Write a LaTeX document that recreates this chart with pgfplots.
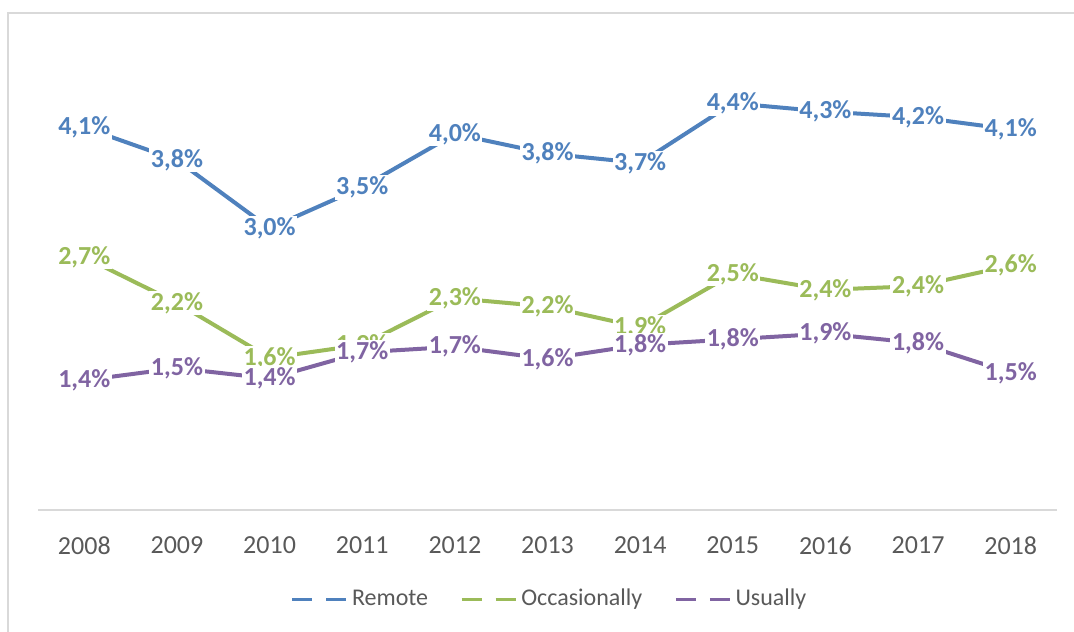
\documentclass[border=0pt]{standalone}
\usepackage{pgfplots}
\pgfplotsset{compat=1.18}
\usepackage{fontspec}
\setmainfont{Carlito}
\definecolor{cRemote}{HTML}{4F81BD}
\definecolor{cOcc}{HTML}{9BBB59}
\definecolor{cUsu}{HTML}{8064A2}
\definecolor{txtgray}{HTML}{595959}
\definecolor{framegray}{HTML}{D9D9D9}
\begin{document}
\begin{tikzpicture}
\useasboundingbox (0,0) rectangle (537pt,315.5pt);
\draw[framegray, line width=0.8pt] (4pt,-5pt) -- (4pt,309pt) -- (545pt,309pt);
\begin{axis}[
  at={(19pt,60.5pt)}, anchor=south west,
  scale only axis, width=509.5pt, height=233.25pt,
  xmin=-0.5, xmax=10.5, ymin=0, ymax=5,
  clip=false,
  axis x line*=bottom, axis y line=none,
  x axis line style={-, draw=framegray, line width=1pt},
  xtick={0,...,10},
  xticklabels={2008,2009,2010,2011,2012,2013,2014,2015,2016,2017,2018},
  major tick length=0pt,
  x tick label style={font=\fontsize{13}{15}\selectfont, text=txtgray, yshift=-10pt},
  point meta=explicit symbolic,
  nodes near coords={\pgfplotspointmeta\%},
  nodes near coords style={anchor=center, fill=white, inner sep=0.8pt, font=\bfseries\fontsize{13}{15}\selectfont},
  legend style={at={(0.503,-0.191)}, anchor=center, draw=none, fill=none,
    legend columns=3, font=\fontsize{12}{14}\selectfont, text=txtgray,
    /tikz/every even column/.style={column sep=14pt},
    legend cell align=left},
  legend image code/.code={\draw[#1, line width=1.6pt] (0pt,0pt) -- (10pt,0pt); \draw[#1, line width=1.6pt] (17pt,0pt) -- (27pt,0pt);},
]
\addplot[cRemote, line width=2pt, every node near coord/.append style={text=cRemote}] coordinates {
(0,4.10) [4,1] (1,3.75) [3,8] (2,3.02) [3,0] (3,3.46) [3,5] (4,4.03) [4,0] (5,3.82) [3,8]
(6,3.72) [3,7] (7,4.36) [4,4] (8,4.27) [4,3] (9,4.21) [4,2] (10,4.08) [4,1]};
\addlegendentry{Remote}
\addplot[cOcc, line width=2pt, every node near coord/.append style={text=cOcc}] coordinates {
(0,2.71) [2,7] (1,2.22) [2,2] (2,1.63) [1,6] (3,1.77) [1,9] (4,2.27) [2,3] (5,2.18) [2,2]
(6,1.96) [1,9] (7,2.53) [2,5] (8,2.36) [2,4] (9,2.40) [2,4] (10,2.62) [2,6]};
\addlegendentry{Occasionally}
\addplot[cUsu, line width=2pt, every node near coord/.append style={text=cUsu}] coordinates {
(0,1.39) [1,4] (1,1.52) [1,5] (2,1.41) [1,4] (3,1.69) [1,7] (4,1.75) [1,7] (5,1.62) [1,6]
(6,1.77) [1,8] (7,1.83) [1,8] (8,1.89) [1,9] (9,1.79) [1,8] (10,1.47) [1,5]};
\addlegendentry{Usually}
\end{axis}
\end{tikzpicture}
\end{document}
